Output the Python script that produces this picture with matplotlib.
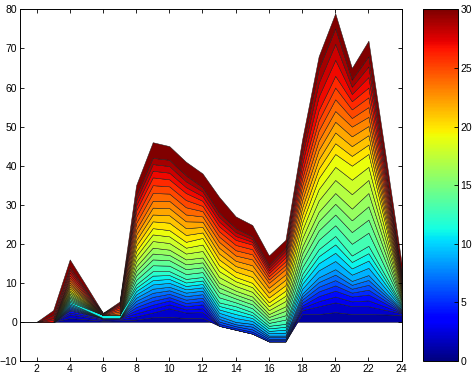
import numpy as np
import matplotlib
matplotlib.use("Agg")
import matplotlib.pyplot as plt
from matplotlib import cm, colors

plt.rcParams['font.family'] = ['Liberation Sans', 'DejaVu Sans']

x = list(range(1, 25))

# layer values (30 stacked series, x = 1..24)
d01 = [0, 0, 0, 1.0, 0.65, 0.3, 0.4, 0.6, 1.2, 1.3, 1.0, 1.0, -1.0, -2.0, -3.0, -5.0, -5.0, 2.0, 2.0, 2.5, 2.0, 2.0, 1.9, 1.8]
d02 = [0, 0, 0, 0.9, 0.6, 0.3, 0.3, 0.8, 1.2, 2.2, 1.4, 1.5, 0, 0, 0, 0, 0, 1.0, 2.0, 2.5, 2.0, 2.0, 1.2, 0.4]
d03 = [0, 0, 0, 0.5, 0.35, 0.2, 0.2, 0.8, 1.0, 1.0, 0.8, 1.0, 0, 0, 0, 0, 0, 0.6, 1.3, 1.5, 1.25, 1.5, 0.85, 0.15]
d04 = [0, 0, 0, 0.5, 0.35, 0.2, 0.1, 0.8, 1.0, 1.0, 0.8, 1.0, 0, 0, 0, 0, 0, 0.6, 1.3, 1.5, 1.25, 1.5, 0.85, 0.15]
d05 = [0, 0, 0, 0.3, 0.15, 0, 0, 0.8, 1.0, 0.85, 0.85, 0.85, 0.5, 0.4, 0.5, 0.3, 0.3, 0.75, 1.2, 1.35, 1.0, 1.25, 0.7, 0.2]
d06 = [0, 0, 0, 0.3, 0.15, 0, 0, 0.8, 1.0, 0.85, 0.85, 0.85, 0.6, 0.5, 0.6, 0.4, 0.4, 0.75, 1.2, 1.35, 1.0, 1.25, 0.7, 0.2]
d07 = [0, 0, 0, 0.3, 0.15, 0, 0, 0.8, 1.05, 0.9, 0.9, 0.9, 0.7, 0.5, 0.7, 0.4, 0.4, 0.75, 1.2, 1.4, 1.0, 1.25, 0.7, 0.2]
d08 = [0, 0, 0, 0.3, 0.15, 0, 0, 0.8, 1.05, 0.9, 0.9, 0.9, 0.7, 0.6, 0.7, 0.4, 0.4, 0.75, 1.2, 1.4, 1.0, 1.25, 0.7, 0.2]
d09 = [0, 0, 0, 0.35, 0.18, 0, 0, 0.85, 1.1, 1.0, 0.85, 0.85, 0.85, 1.0, 0.75, 0.6, 0.75, 1.25, 1.8, 2.1, 1.6, 1.85, 1.1, 0.3]
d10 = [0, 0, 0, 0.35, 0.18, 0, 0, 0.85, 1.1, 1.0, 0.85, 0.85, 0.85, 1.0, 0.75, 0.6, 0.75, 1.25, 1.8, 2.1, 1.6, 1.85, 1.1, 0.3]
d11 = [0, 0, 0, 0.35, 0.58, 0.8, 0.8, 0.85, 1.15, 1.0, 0.9, 0.9, 0.9, 1.0, 0.75, 0.65, 0.75, 1.25, 1.8, 2.15, 1.65, 1.9, 1.1, 0.3]
d12 = [0, 0, 0, 0.35, 0.18, 0, 0, 0.85, 1.15, 1.0, 0.9, 0.9, 0.9, 1.0, 0.75, 0.65, 0.75, 1.25, 1.8, 2.15, 1.65, 1.9, 1.1, 0.3]
d13 = [0, 0, 0, 0.35, 0.18, 0, 0, 1.15, 1.5, 1.4, 1.25, 1.25, 1.3, 1.0, 1.0, 0.75, 1.1, 1.75, 2.4, 2.75, 3.0, 3.35, 1.9, 0.4]
d14 = [0, 0, 0, 0.35, 0.18, 0, 0, 1.15, 1.5, 1.4, 1.25, 1.25, 1.3, 1.0, 1.0, 0.75, 1.1, 1.75, 2.4, 2.75, 3.0, 3.35, 1.9, 0.4]
d15 = [0, 0, 0, 0.35, 0.18, 0, 0, 1.15, 1.5, 1.35, 1.25, 1.25, 1.2, 1.0, 1.0, 0.75, 1.15, 1.75, 2.4, 2.75, 3.0, 3.4, 1.9, 0.35]
d16 = [0, 0, 0, 0.35, 0.18, 0, 0, 1.15, 1.5, 1.35, 1.25, 1.25, 1.2, 1.0, 1.0, 0.75, 1.15, 1.75, 2.4, 2.75, 3.0, 3.4, 1.9, 0.35]
d17 = [0, 0, 0, 0.4, 0.2, 0, 0, 1.3, 1.7, 1.7, 1.5, 1.65, 1.5, 1.2, 1.2, 1.0, 1.35, 2.1, 2.9, 3.35, 3.7, 3.35, 1.9, 0.5]
d18 = [0, 0, 0, 0.4, 0.2, 0, 0, 1.3, 1.7, 1.7, 1.5, 1.65, 1.5, 1.2, 1.2, 1.0, 1.35, 2.1, 2.9, 3.35, 3.7, 3.35, 1.9, 0.5]
d19 = [0, 0, 0, 0.4, 0.2, 0, 0, 1.3, 1.6, 1.6, 1.5, 1.7, 1.5, 1.1, 1.1, 1.0, 1.3, 2.0, 2.8, 3.3, 3.6, 3.3, 1.9, 0.5]
d20 = [0, 0, 0, 0.5, 0.25, 0, 0, 1.4, 1.75, 1.9, 1.75, 1.4, 1.5, 1.4, 1.5, 1.25, 1.4, 1.9, 2.4, 2.75, 2.5, 2.4, 1.45, 0.5]
d21 = [0, 0, 0, 0.5, 0.25, 0, 0, 1.4, 1.75, 1.9, 1.75, 1.4, 1.5, 1.4, 1.5, 1.25, 1.4, 1.9, 2.4, 2.75, 2.5, 2.4, 1.45, 0.5]
d22 = [0, 0, 0, 0.5, 0.25, 0, 0, 1.4, 1.75, 1.85, 1.75, 1.35, 1.5, 1.35, 1.5, 1.25, 1.35, 1.9, 2.4, 2.75, 2.5, 2.35, 1.45, 0.5]
d23 = [0, 0, 0, 0.5, 0.25, 0, 0.4, 1.4, 1.75, 1.85, 1.75, 1.35, 1.5, 1.35, 1.5, 1.25, 1.35, 1.9, 2.4, 2.75, 2.5, 2.35, 1.45, 0.5]
d24 = [0, 0, 0, 0.6, 0.3, 0, 0.5, 1.6, 2.0, 1.85, 1.85, 1.35, 1.35, 1.35, 1.3, 0.85, 1.0, 1.8, 2.6, 3.0, 2.2, 2.5, 1.5, 0.5]
d25 = [0, 0, 0, 0.6, 0.35, 0.1, 0.5, 1.6, 2.0, 1.85, 1.85, 1.35, 1.35, 1.35, 1.3, 0.85, 1.0, 1.8, 2.6, 3.0, 2.2, 2.5, 1.5, 0.5]
d26 = [0, 0, 0, 0.6, 0.35, 0.1, 0.5, 1.6, 2.0, 1.8, 1.8, 1.3, 1.3, 1.3, 1.2, 0.8, 1.0, 1.8, 2.6, 3.0, 2.1, 2.5, 1.5, 0.5]
d27 = [0, 0, 0.5, 0.7, 0.4, 0.1, 0.4, 1.3, 1.7, 1.7, 1.5, 1.2, 1.2, 1.0, 0.7, 0.7, 0.85, 2.0, 3.5, 4.1, 1.85, 2.7, 1.6, 0.5]
d28 = [0, 0, 0.5, 0.7, 0.4, 0.1, 0.4, 1.3, 1.7, 1.7, 1.5, 1.2, 1.2, 1.0, 0.7, 0.7, 0.85, 2.0, 3.5, 4.1, 1.85, 2.7, 1.6, 0.5]
d29 = [0, 0, 0.8, 0.7, 0.38, 0.05, 0.3, 1.3, 1.6, 1.6, 1.5, 1.1, 1.1, 1.0, 0.7, 0.7, 0.8, 2.0, 3.6, 4.0, 1.8, 2.6, 1.6, 0.5]
d30 = [0, 0, 1.2, 2.0, 1.03, 0.05, 0.4, 2.6, 4.0, 3.5, 3.5, 3.5, 4.0, 3.0, 2.9, 2.4, 2.0, 2.2, 3.2, 3.8, 3.0, 4.0, 3.2, 2.5]

series = [d01, d02, d03, d04, d05, d06, d07, d08, d09, d10,
          d11, d12, d13, d14, d15, d16, d17, d18, d19, d20,
          d21, d22, d23, d24, d25, d26, d27, d28, d29, d30]

xticks = list(range(2, 25, 2))
yticks = list(range(-10, 81, 10))
cbar_ticks = [0, 5, 10, 15, 20, 25, 30]

fig = plt.figure(figsize=(4.75, 3.76), dpi=100)
ax = fig.add_axes([0.042, 0.040, 0.8035, 0.935])
cax = fig.add_axes([0.891, 0.040, 0.0724, 0.935])

cmap = matplotlib.colormaps['jet']
n = len(series)
# layer k (1..30) uses colour k on a 0..30 colour scale
cols = [cmap((i + 1) / n) for i in range(n)]
ax.stackplot(x, *series, colors=cols, edgecolor='#1a1a1a', linewidth=0.35)

ax.set_xlim(1, 24)
ax.set_ylim(-10, 80)
ax.set_xticks(xticks)
ax.set_yticks(yticks)
ax.tick_params(direction='in', length=3, width=0.6, labelsize=7.5, top=True, right=True, pad=2)
for s in ax.spines.values():
    s.set_linewidth(0.7)

sm = cm.ScalarMappable(norm=colors.Normalize(0, 30), cmap=cmap)
cb = fig.colorbar(sm, cax=cax)
cb.set_ticks(cbar_ticks)
cax.tick_params(direction='in', length=3, width=0.6, labelsize=7.5, pad=2)
cb.outline.set_linewidth(0.7)

fig.savefig('out.png', dpi=100)
